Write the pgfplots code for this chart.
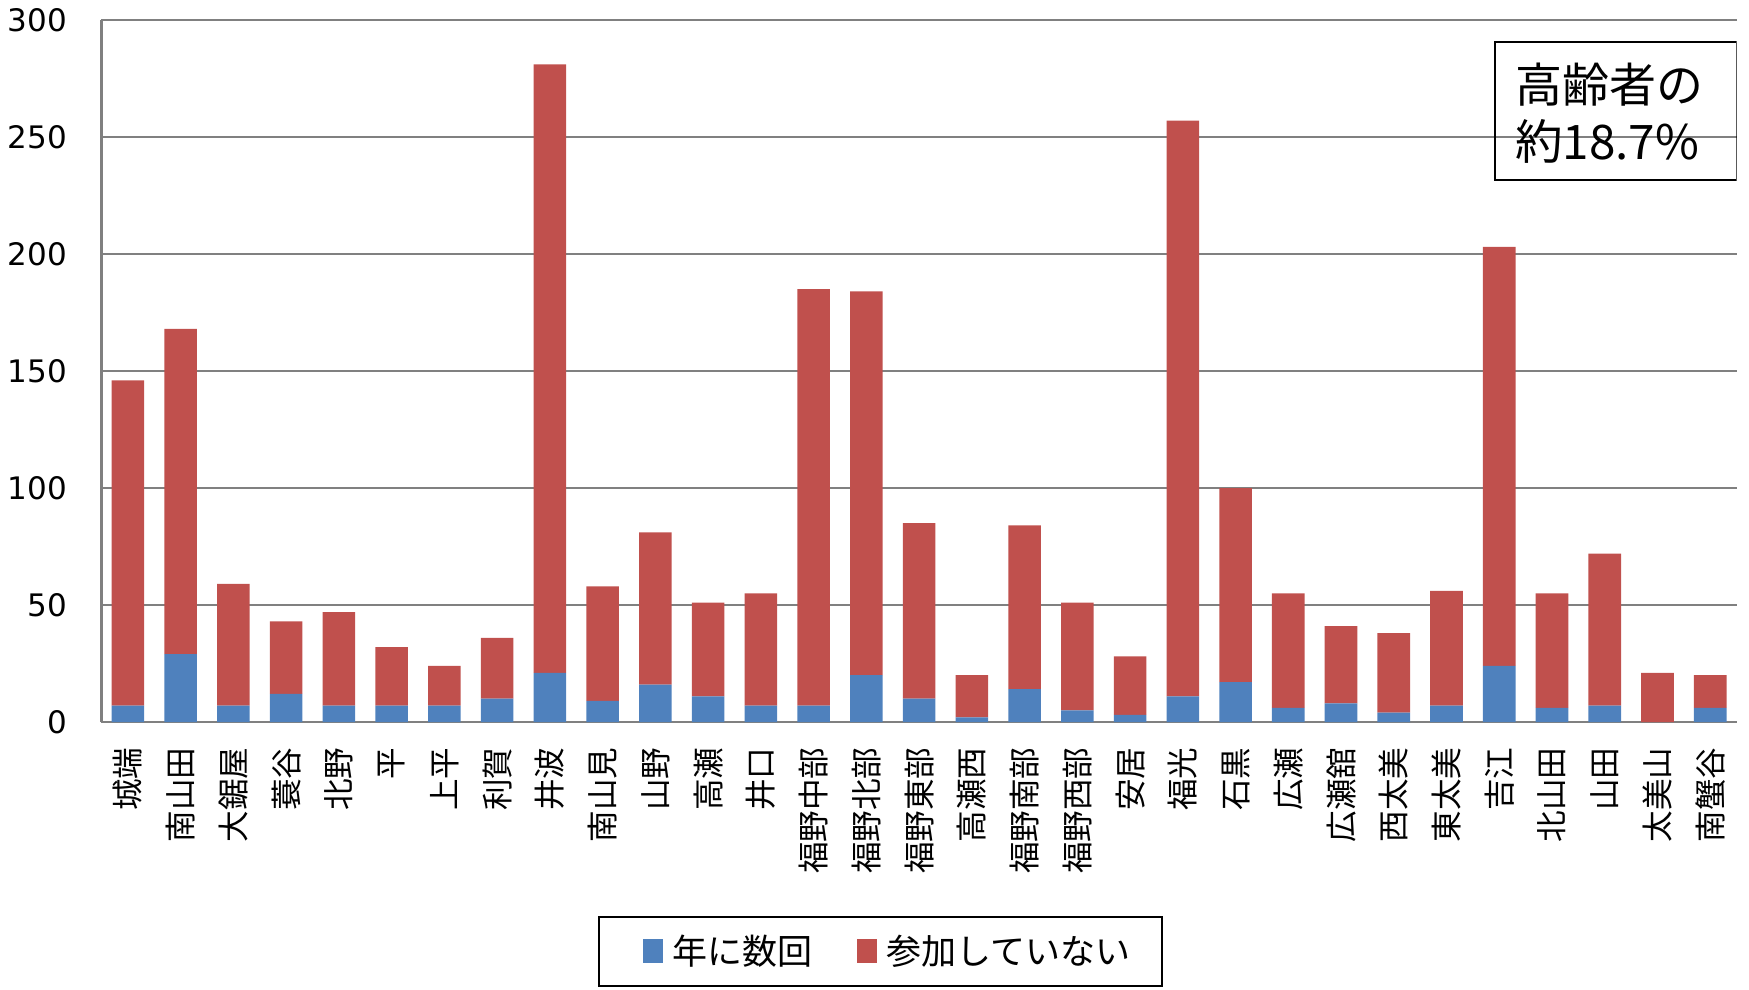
\documentclass[border=0pt]{standalone}
\usepackage{pgfplots}
\pgfplotsset{compat=1.18}
\usepackage{fontspec}
\setmainfont{Noto Sans CJK JP}
\newfontfamily\numfont{DejaVu Sans}
\definecolor{serA}{HTML}{4F81BD}
\definecolor{serB}{HTML}{C0504D}
\definecolor{gridc}{HTML}{808080}

\pgfplotstableread{
x blue red
0 7 139
1 29 139
2 7 52
3 12 31
4 7 40
5 7 25
6 7 17
7 10 26
8 21 260
9 9 49
10 16 65
11 11 40
12 7 48
13 7 178
14 20 164
15 10 75
16 2 18
17 14 70
18 5 46
19 3 25
20 11 246
21 17 83
22 6 49
23 8 33
24 4 34
25 7 49
26 24 179
27 6 49
28 7 65
29 0 21
30 6 14
}\datatable

\begin{document}
\begin{tikzpicture}
\path[use as bounding box] (-50.75bp,-133.75bp) rectangle (823.75bp,361bp);
\begin{axis}[
  at={(0,0)}, anchor=south west,
  scale only axis, width=817.6bp, height=351bp,
  ybar stacked, bar width=0.62,
  xmin=-0.5, xmax=30.5, ymin=0, ymax=300,
  xtick={0,...,30},
  xticklabels={城端,南山田,大鋸屋,蓑谷,北野,平,上平,利賀,井波,南山見,山野,高瀬,井口,福野中部,福野北部,福野東部,高瀬西,福野南部,福野西部,安居,福光,石黒,広瀬,広瀬舘,西太美,東太美,吉江,北山田,山田,太美山,南蟹谷},
  ytick={0,50,...,300},
  ymajorgrids, grid style={gridc, line width=1.1bp},
  axis x line*=bottom, axis y line*=left,
  axis line style={-, gridc, line width=1.1bp},
  major tick length=0pt,
  /pgf/number format/assume math mode=true,
  yticklabel style={font=\numfont\fontsize{15.5bp}{18bp}\selectfont, inner sep=0pt, anchor=east},
  yticklabel shift=17bp,
  xticklabel style={rotate=90, anchor=east, font=\fontsize{15.8bp}{17bp}\selectfont, inner sep=0pt},
  xticklabel shift=12.5bp,
  legend style={at={(0.4764,-0.3269)}, anchor=center, draw=black, line width=1bp,
    font=\fontsize{17.5bp}{20bp}\selectfont, inner xsep=14bp, inner ysep=7bp,
    /tikz/every odd column/.append style={column sep=3bp},
    /tikz/every even column/.append style={column sep=12bp}},
  legend columns=2,
  legend image code/.code={\path (-8bp,0bp); \fill[#1] (0bp,-6bp) rectangle (10bp,6bp);},
]
\addplot[fill=serA, draw=none] table[x=x, y=blue] {\datatable};
\addlegendentry{年に数回}
\addplot[fill=serB, draw=none] table[x=x, y=red] {\datatable};
\addlegendentry{参加していない}
\draw[black, line width=1bp] (rel axis cs:0.852,0.772) rectangle (rel axis cs:1,0.9687);
\node[anchor=west, inner sep=0pt, font=\fontsize{23.5bp}{28bp}\selectfont] at (rel axis cs:0.8643,0.9085) {高齢者の};
\node[anchor=west, inner sep=0pt, font=\fontsize{23.8bp}{28bp}\selectfont] at (rel axis cs:0.8643,0.8276) {約18.7\%};
\end{axis}
\end{tikzpicture}
\end{document}
